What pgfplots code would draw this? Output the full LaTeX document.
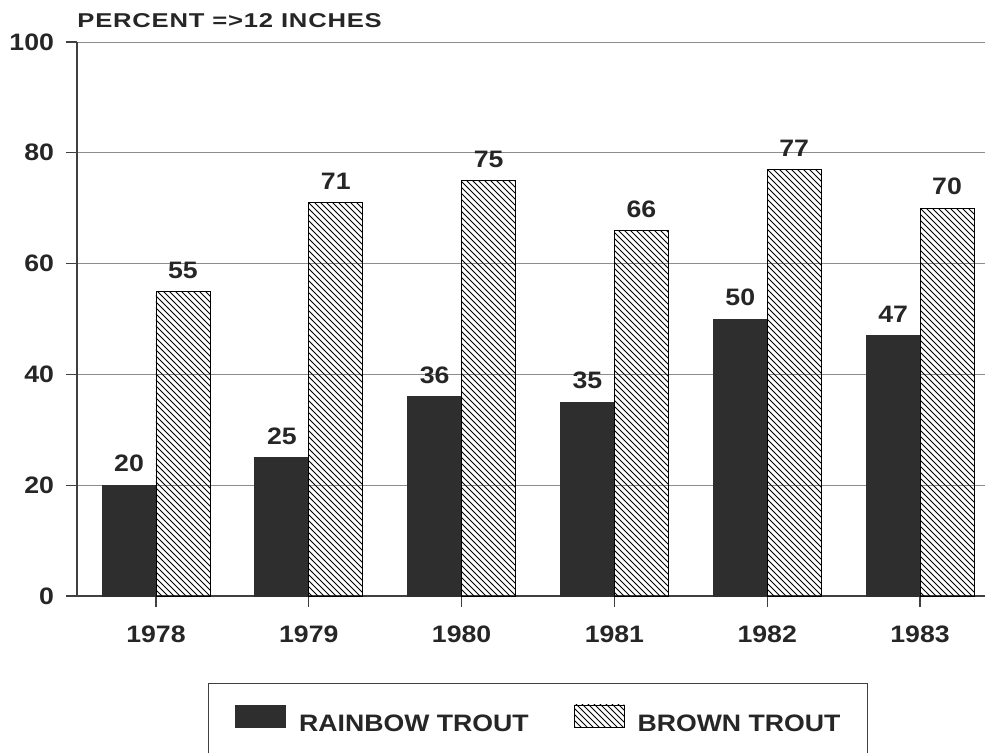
\documentclass[border=0pt]{standalone}
\usepackage{fontspec}
\setmainfont{Liberation Sans}[FakeStretch=1.12]
\newfontfamily\titlefont{Liberation Sans}[FakeStretch=1.28,LetterSpace=4]
\usepackage{pgfplots}
\pgfplotsset{compat=1.18}
\usetikzlibrary{patterns}
\newcommand{\lblfont}{\bfseries\fontsize{11.9}{14}\selectfont}
\begin{document}
\begin{tikzpicture}
\begin{axis}[
  scale only axis, width=454pt, height=277pt,
  xmin=-0.517, xmax=5.425, ymin=0, ymax=100,
  clip=false,
  axis x line*=bottom, axis y line*=left,
  axis line style={black!75, line width=0.6pt},
  ytick={0,20,...,100},
  xtick={0,...,5}, xticklabels={1978,1979,1980,1981,1982,1983},
  ymajorgrids, grid style={black!45, line width=0.4pt},
  tick align=outside, major tick length=5.5pt,
  tick style={black!75, line width=0.6pt},
  ticklabel style={font=\lblfont, text=black!85},
  /pgf/number format/assume math mode=true,
  xticklabel style={yshift=-6pt},
  yticklabel style={xshift=-2.5pt},
  ybar, bar width=0.353,
  nodes near coords,
  nodes near coords style={font=\lblfont, text=black!85, /pgf/number format/assume math mode=true, yshift=3pt},
  legend style={at={(rel axis cs:0.1443,-0.157)}, anchor=north west,
    draw=black!75, legend columns=2,
    minimum width=329.5pt, minimum height=36pt,
    inner xsep=0pt, inner ysep=0pt, font=\lblfont, text=black!85,
    nodes={inner sep=0pt, minimum width=0pt, minimum height=0pt},
    /tikz/every even column/.append style={column sep=22.5pt},
    /tikz/every odd column/.append style={column sep=6.5pt}},
]
\addplot[fill=black!82, draw=black!82, bar shift=-0.1765,
  legend image code/.code={\draw[fill=black!82, draw=black!82] (0pt,-1.25pt) rectangle (25pt,9.75pt);}]
  coordinates {(0,20) (1,25) (2,36) (3,35) (4,50) (5,47)};
\addplot[pattern=north west lines, draw=black, bar shift=0.1765,
  legend image code/.code={\draw[pattern=north west lines, draw=black] (0pt,-1.25pt) rectangle (25pt,9.75pt);}]
  coordinates {(0,55) (1,71) (2,75) (3,66) (4,77) (5,70)};
\legend{RAINBOW TROUT, BROWN TROUT}
\node[anchor=base west, font=\titlefont\bfseries\fontsize{10}{12}\selectfont, text=black!85, inner sep=0pt] at (rel axis cs:0,1.027) {PERCENT =>12 INCHES};
\coordinate (bbsw) at (rel axis cs:-0.0848,-0.2816);
\coordinate (bbne) at (rel axis cs:1,1.0758);
\end{axis}
\pgfresetboundingbox
\path[use as bounding box] (bbsw) rectangle (bbne);
\end{tikzpicture}
\end{document}
